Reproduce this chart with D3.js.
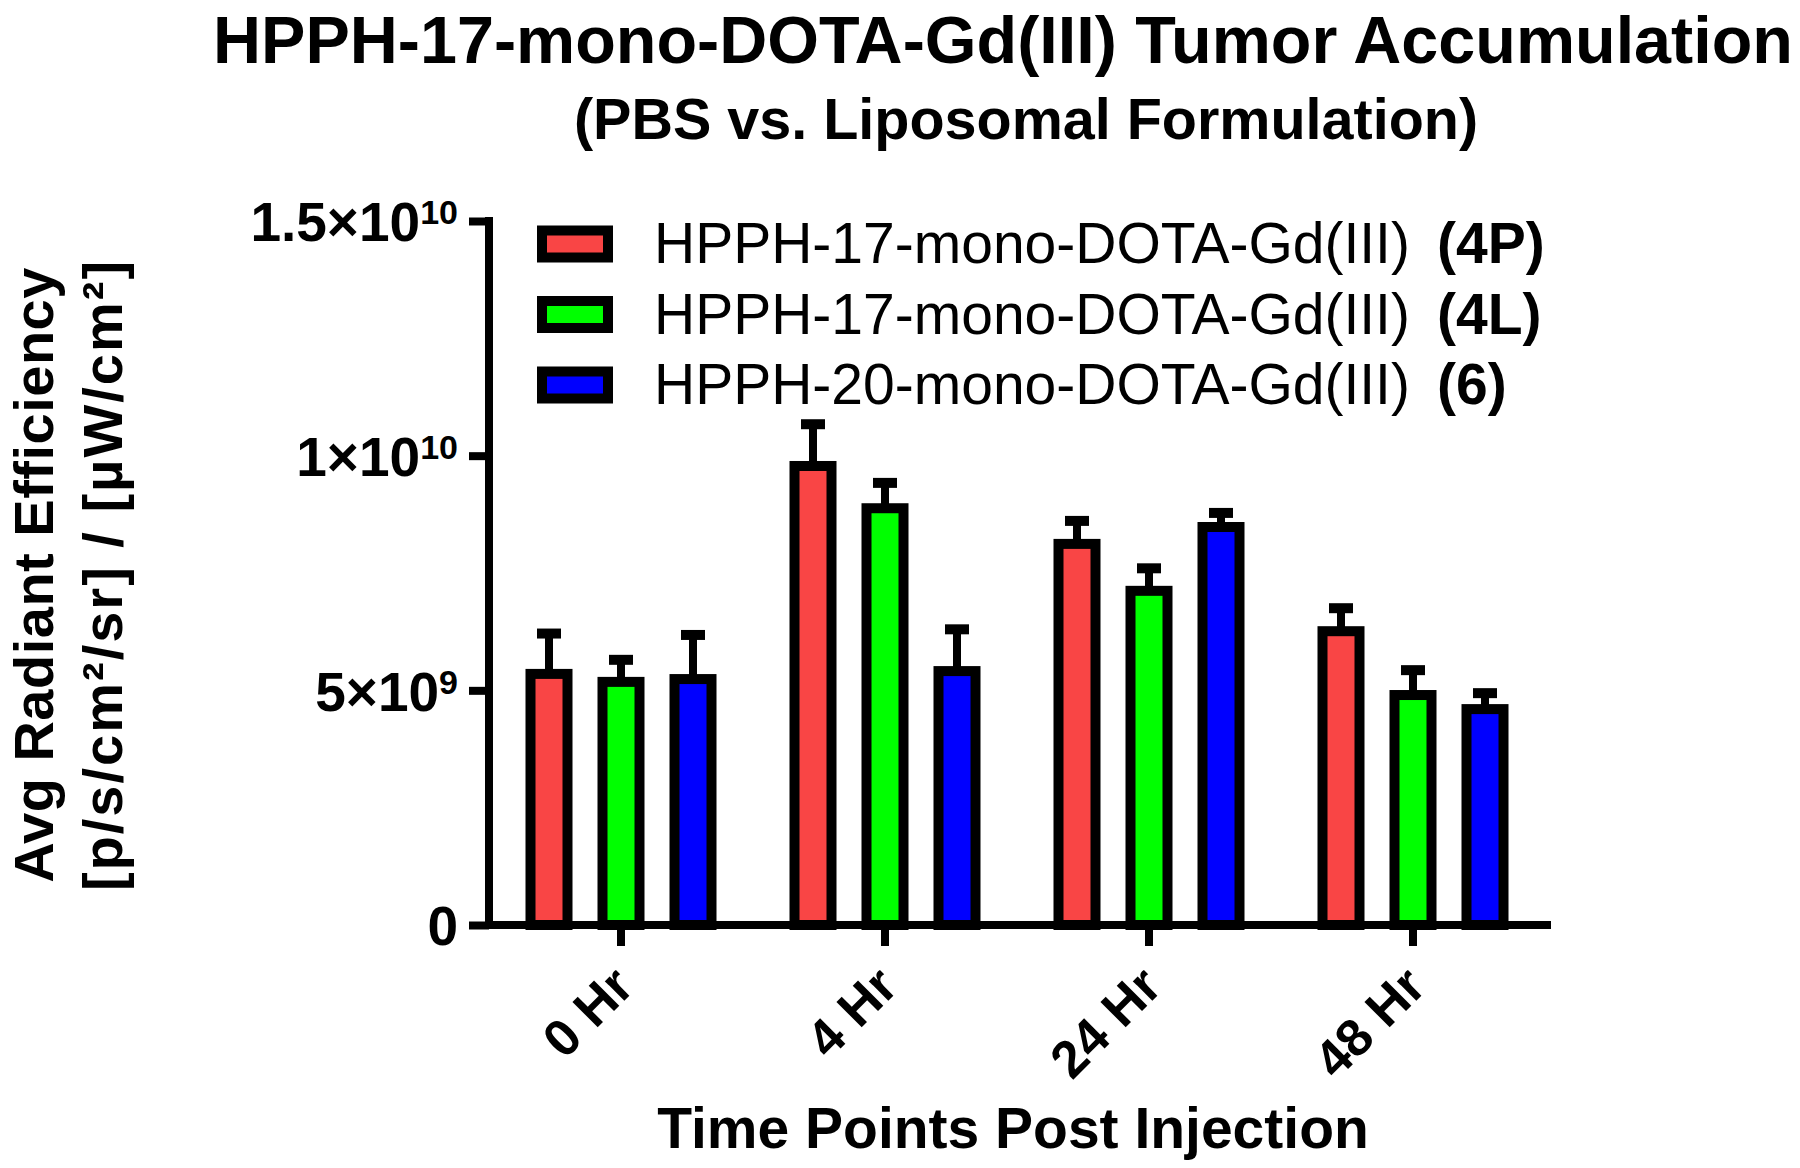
<!DOCTYPE html>
<html>
<head>
<meta charset="utf-8">
<script src="https://cdn.jsdelivr.net/npm/d3@7/dist/d3.min.js"></script>
<style>
  html, body { margin: 0; padding: 0; background: #fff; }
  svg { display: block; }
  text { font-family: "Liberation Sans", Arial, Helvetica, sans-serif; fill: #000; }
</style>
</head>
<body>
<svg id="chart" width="1800" height="1168"></svg>
<script>
// ---- Data ----
const categories = ["0 Hr", "4 Hr", "24 Hr", "48 Hr"];
const seriesKeys = ["4P", "4L", "6"];
const seriesColors = ["#F94545", "#00FF00", "#0000FF"];
const legendLabels = ["HPPH-17-mono-DOTA-Gd(III)", "HPPH-17-mono-DOTA-Gd(III)", "HPPH-20-mono-DOTA-Gd(III)"];
const legendTags = ["(4P)", "(4L)", "(6)"];
const means4P = [5.35e9, 9.78e9, 8.12e9, 6.26e9];
const means4L = [5.18e9, 8.88e9, 7.12e9, 4.90e9];
const means6  = [5.24e9, 5.41e9, 8.48e9, 4.60e9];
const err4P = [0.86e9, 0.89e9, 0.49e9, 0.49e9];
const err4L = [0.47e9, 0.54e9, 0.48e9, 0.53e9];
const err6  = [0.94e9, 0.89e9, 0.30e9, 0.34e9];
const yTickValues = [0, 5e9, 1e10, 1.5e10];
const yTickMain = ["0", "5\u00D710", "1\u00D710", "1.5\u00D710"];
const yTickExp = ["", "9", "10", "10"];

const titleText = "HPPH-17-mono-DOTA-Gd(III) Tumor Accumulation";
const subtitleText = "(PBS vs. Liposomal Formulation)";
const xTitle = "Time Points Post Injection";
const yTitle1 = "Avg Radiant Efficiency";
const yTitle2 = "[p/s/cm\u00B2/sr] / [\u00B5W/cm\u00B2]";

const means = [means4P, means4L, means6];
const errs = [err4P, err4L, err6];

const svg = d3.select("#chart");

// ---- Scales ----
const x0 = d3.scaleBand().domain(categories).range([489, 1545]).paddingInner(0).paddingOuter(0);
const x1 = d3.scalePoint().domain(seriesKeys).range([-72, 72]);
const y = d3.scaleLinear().domain([0, 1.5e10]).range([925, 221]);
const color = d3.scaleOrdinal().domain(seriesKeys).range(seriesColors);

const barW = 37;
const records = [];
seriesKeys.forEach((s, si) => {
  categories.forEach((c, ci) => {
    records.push({ s, c, v: means[si][ci], e: errs[si][ci] });
  });
});
const cx = d => x0(d.c) + x0.bandwidth() / 2 + x1(d.s);

// ---- Error bars ----
const eb = svg.append("g").attr("class", "errorbars");
eb.selectAll("line.stem").data(records).join("line")
  .attr("x1", cx).attr("x2", cx)
  .attr("y1", d => y(d.v)).attr("y2", d => y(d.v + d.e))
  .attr("stroke", "#000").attr("stroke-width", 8);
eb.selectAll("line.cap").data(records).join("line")
  .attr("x1", d => cx(d) - 12).attr("x2", d => cx(d) + 12)
  .attr("y1", d => y(d.v + d.e)).attr("y2", d => y(d.v + d.e))
  .attr("stroke", "#000").attr("stroke-width", 10);

// ---- Bars ----
svg.append("g").attr("class", "bars")
  .selectAll("rect").data(records).join("rect")
  .attr("x", d => cx(d) - barW / 2)
  .attr("width", barW)
  .attr("y", d => y(d.v))
  .attr("height", d => y(0) - y(d.v))
  .attr("fill", d => color(d.s))
  .attr("stroke", "#000")
  .attr("stroke-width", 10);

// ---- Y axis ----
const yAxis = d3.axisLeft(y).tickValues(yTickValues).tickSize(20).tickSizeOuter(0).tickPadding(11).tickFormat(() => "");
const gy = svg.append("g").attr("transform", "translate(489,0)").call(yAxis);
gy.select(".domain").remove();
gy.selectAll(".tick line").attr("stroke", "#000").attr("stroke-width", 8);
gy.selectAll(".tick text").each(function(d) {
  const i = yTickValues.indexOf(d);
  const t = d3.select(this)
    .attr("font-size", 55).attr("font-weight", "bold")
    .attr("dy", "0.36em").text(null);
  t.append("tspan").text(yTickMain[i]);
  if (yTickExp[i]) t.append("tspan").attr("font-size", 34).attr("dy", -17).text(yTickExp[i]);
});
svg.append("line").attr("x1", 489).attr("x2", 489).attr("y1", y(1.5e10) - 4).attr("y2", y(0) + 4)
  .attr("stroke", "#000").attr("stroke-width", 8);

// ---- X axis ----
const xAxis = d3.axisBottom(x0).tickSize(21).tickSizeOuter(0).tickPadding(0);
const gx = svg.append("g").attr("transform", `translate(0,${y(0)})`).call(xAxis);
gx.select(".domain").remove();
gx.selectAll(".tick line").attr("stroke", "#000").attr("stroke-width", 8);
gx.selectAll(".tick text")
  .attr("font-size", 52).attr("font-weight", "bold")
  .attr("text-anchor", "end")
  .attr("x", 0).attr("y", 0).attr("dy", 0)
  .attr("transform", "translate(15,64) rotate(-45)");
svg.append("line").attr("x1", 485).attr("x2", 1551).attr("y1", y(0)).attr("y2", y(0))
  .attr("stroke", "#000").attr("stroke-width", 8);

// ---- Titles ----
svg.append("text").attr("x", 1003).attr("y", 63).attr("text-anchor", "middle")
  .attr("font-size", 66.5).attr("font-weight", "bold").text(titleText);
svg.append("text").attr("x", 1026).attr("y", 139).attr("text-anchor", "middle")
  .attr("font-size", 57.5).attr("font-weight", "bold").text(subtitleText);
svg.append("text").attr("x", 1013).attr("y", 1148).attr("text-anchor", "middle")
  .attr("font-size", 57).attr("font-weight", "bold").text(xTitle);
svg.append("text").attr("transform", "translate(53,575) rotate(-90)").attr("text-anchor", "middle")
  .attr("font-size", 56).attr("font-weight", "bold").attr("letter-spacing", 0.5).text(yTitle1);
svg.append("text").attr("transform", "translate(122,575) rotate(-90)").attr("text-anchor", "middle")
  .attr("font-size", 56).attr("font-weight", "bold").attr("letter-spacing", 2).text(yTitle2);

// ---- Legend ----
const legend = svg.append("g").attr("transform", "translate(542,244)");
const rows = legend.selectAll("g").data(seriesKeys).join("g")
  .attr("transform", (d, i) => `translate(0,${i * 70.5})`);
rows.append("rect").attr("x", 0).attr("y", -13.5).attr("width", 66).attr("height", 27)
  .attr("fill", d => color(d)).attr("stroke", "#000").attr("stroke-width", 10);
rows.append("text").attr("x", 112).attr("y", 19).attr("font-size", 57)
  .text((d, i) => legendLabels[i]);
rows.append("text").attr("x", 895).attr("y", 19).attr("font-size", 57).attr("font-weight", "bold")
  .text((d, i) => legendTags[i]);
</script>
</body>
</html>
